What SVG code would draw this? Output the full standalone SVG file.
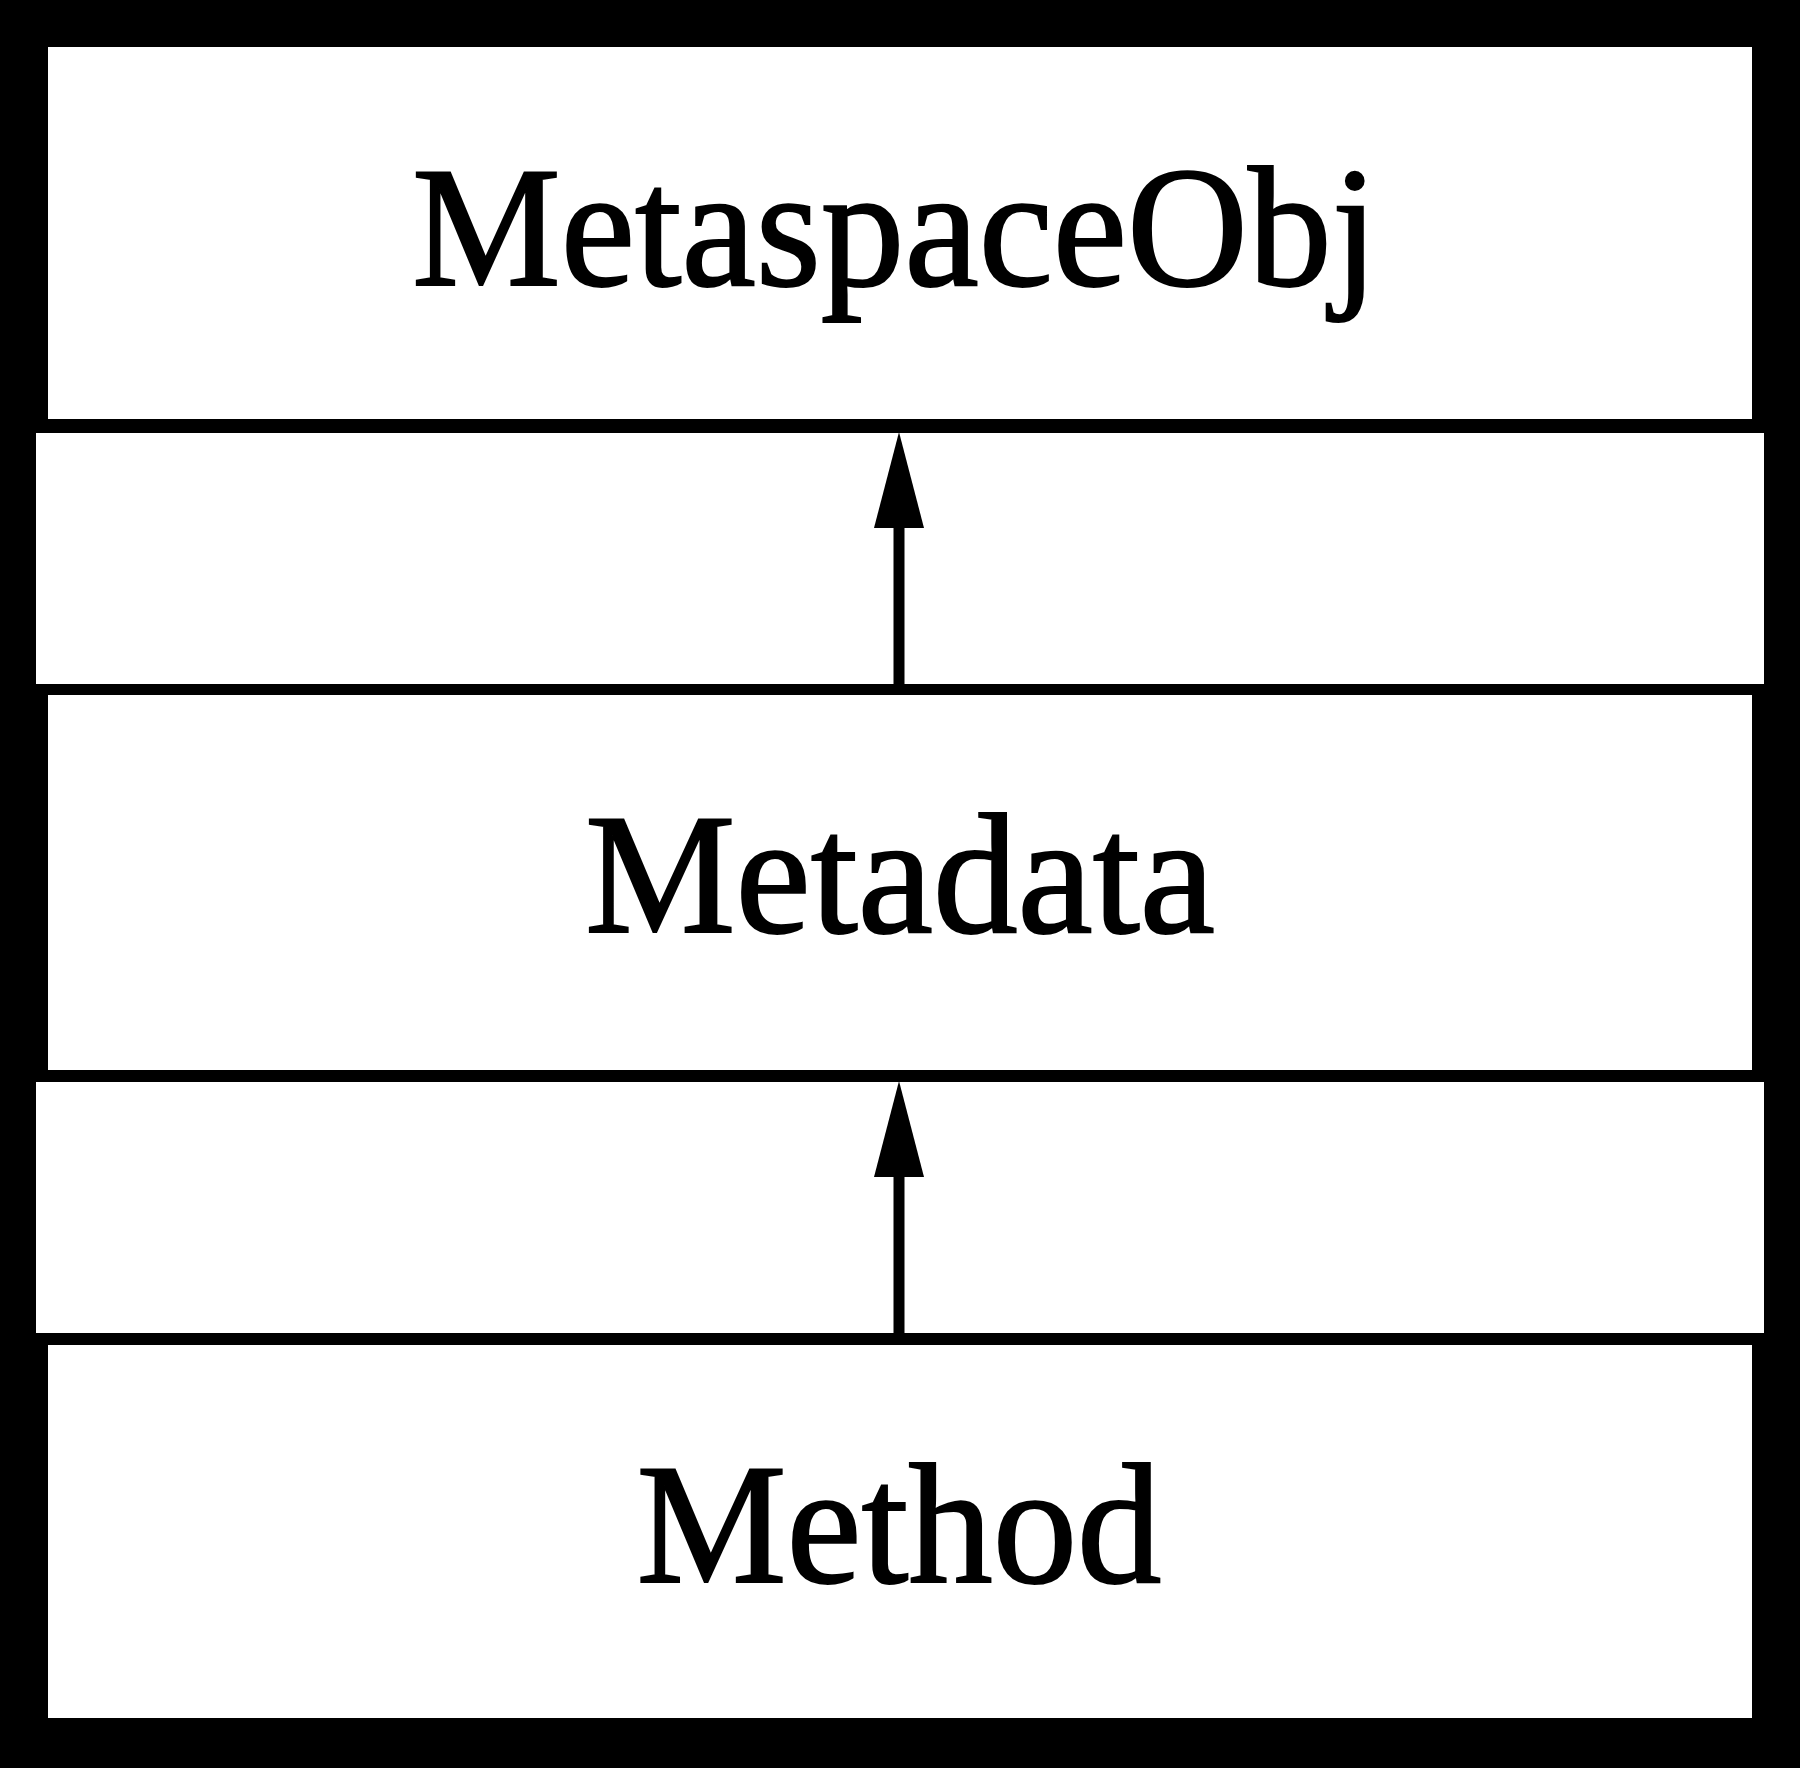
<svg xmlns="http://www.w3.org/2000/svg" width="1800" height="1768" viewBox="0 0 1800 1768">
  <style>
    .node { fill: #ffffff; }
    .gap { fill: #ffffff; }
    .label { font-family: "Liberation Serif", "Times New Roman", serif; font-size: 171px; fill: #000000; stroke: #000000; stroke-width: 2; text-anchor: middle; }
    .edge { stroke: #000000; stroke-width: 11; fill: none; }
  </style>
  <defs>
    <marker id="arrowhead" markerUnits="userSpaceOnUse" viewBox="0 0 96 50" refX="0" refY="25" markerWidth="96" markerHeight="50" orient="auto">
      <polygon points="0,0 96,25 0,50" fill="#000000"/>
    </marker>
  </defs>
  <rect x="0" y="0" width="1800" height="1768" fill="#000000"/>
  <g id="gaps">
    <rect class="gap" x="36" y="433" width="1728" height="251"/>
    <rect class="gap" x="36" y="1082" width="1728" height="251"/>
  </g>
  <g id="node-metaspaceobj">
    <rect class="node" x="48" y="47" width="1704" height="372"/>
    <text class="label" x="895" y="285" textLength="966" lengthAdjust="spacingAndGlyphs">MetaspaceObj</text>
  </g>
  <g id="node-metadata">
    <rect class="node" x="48" y="695" width="1704" height="375"/>
    <text class="label" x="900" y="932" textLength="630" lengthAdjust="spacingAndGlyphs">Metadata</text>
  </g>
  <g id="node-method">
    <rect class="node" x="48" y="1345" width="1704" height="373"/>
    <text class="label" x="899" y="1582" textLength="525" lengthAdjust="spacingAndGlyphs">Method</text>
  </g>
  <g id="connectors">
    <path class="edge" d="M899,684 L899,528" marker-end="url(#arrowhead)"/>
    <path class="edge" d="M899,1333 L899,1177" marker-end="url(#arrowhead)"/>
  </g>
</svg>
